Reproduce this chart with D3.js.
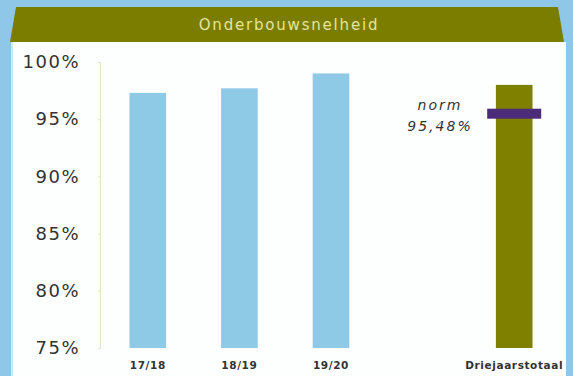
<!DOCTYPE html>
<html>
<head>
<meta charset="utf-8">
<script src="https://cdn.jsdelivr.net/npm/d3@7"></script>
<style>
  body { margin: 0; background: #ffffff; }
  svg { display: block; }
</style>
</head>
<body>
<div id="chart"></div>
<script>
'use strict';

// data
const categories = ['17/18', '18/19', '19/20', '', 'Driejaarstotaal'];
const values = [97.3, 97.7, 99.0, null, 98.0];
const bar_colors = ['#8ecae6', '#8ecae6', '#8ecae6', null, '#808000'];
const norm_value = 95.48;
const norm_label = '95,48%';
const y_ticks = [75, 80, 85, 90, 95, 100];
const title = 'Onderbouwsnelheid';

const width = 573, height = 376;
const font = 'Verdana, DejaVu Sans, sans-serif';

const svg = d3.select('#chart')
  .append('svg')
  .attr('width', width)
  .attr('height', height);

// light blue frame + white panel
svg.append('rect')
  .attr('width', width).attr('height', height)
  .attr('fill', '#8fc7e8');
svg.append('rect')
  .attr('x', 11).attr('y', 42)
  .attr('width', 555).attr('height', height - 42)
  .attr('fill', '#fdfefe');
svg.append('rect')
  .attr('x', 11).attr('y', 42)
  .attr('width', 2).attr('height', height - 42)
  .attr('fill', '#c8ecf6');

// title banner (trapezoid)
svg.append('path')
  .attr('d', 'M16,7 L558,7 L564,42 L10,42 Z')
  .attr('fill', '#7b7d00');
svg.append('text')
  .attr('x', 289).attr('y', 30)
  .attr('text-anchor', 'middle')
  .style('font-family', font)
  .style('font-size', '15px')
  .style('letter-spacing', '1.8px')
  .style('fill', '#e6e49a')
  .text(title);

// scales
const x = d3.scaleBand()
  .domain(categories)
  .range([102, 560])
  .paddingInner(0.6)
  .paddingOuter(0.3);

const y = d3.scaleLinear()
  .domain([75, 100])
  .range([348, 62]);

// y axis
const yAxis = d3.axisLeft(y)
  .tickValues(y_ticks)
  .tickFormat(d => d + '%')
  .tickSize(2)
  .tickPadding(18);

const yAxisGroup = svg.append('g')
  .attr('transform', 'translate(100,0)')
  .style('font-family', font)
  .style('font-size', '18px')
  .style('letter-spacing', '1.5px')
  .call(yAxis);
yAxisGroup.select('.domain').attr('stroke', '#dfe6c8');
yAxisGroup.selectAll('.tick line').attr('stroke', '#dfe6c8');
yAxisGroup.selectAll('.tick text').attr('fill', '#333333');

// bars
const rows = categories.map((c, i) => ({ cat: c, value: values[i], color: bar_colors[i] }))
  .filter(d => d.value !== null);

svg.append('g')
  .selectAll('rect')
  .data(rows)
  .join('rect')
  .attr('x', d => x(d.cat))
  .attr('y', d => y(d.value))
  .attr('width', x.bandwidth())
  .attr('height', d => y(75) - y(d.value))
  .attr('fill', d => d.color);

// x labels
svg.append('g')
  .selectAll('text')
  .data(categories.filter(c => c !== ''))
  .join('text')
  .attr('x', d => x(d) + x.bandwidth() / 2)
  .attr('y', 369)
  .attr('text-anchor', 'middle')
  .style('font-family', font)
  .style('font-size', '10.5px')
  .style('font-weight', 'bold')
  .style('letter-spacing', '0.6px')
  .style('fill', '#333333')
  .text(d => d);

// norm marker on total bar
const total = categories[4];
const cx = x(total) + x.bandwidth() / 2;
svg.append('rect')
  .attr('x', cx - 27)
  .attr('y', y(norm_value) - 5)
  .attr('width', 54)
  .attr('height', 10)
  .attr('fill', '#4b2c78');

const normText = svg.append('g')
  .style('font-family', font)
  .style('font-size', '14px')
  .style('font-style', 'italic')
  .style('letter-spacing', '2px')
  .style('fill', '#333333')
  .attr('text-anchor', 'middle');
normText.append('text')
  .attr('x', 440).attr('y', y(norm_value) - 4)
  .text('norm');
normText.append('text')
  .attr('x', 440).attr('y', y(norm_value) + 17)
  .text(norm_label);
</script>
</body>
</html>
